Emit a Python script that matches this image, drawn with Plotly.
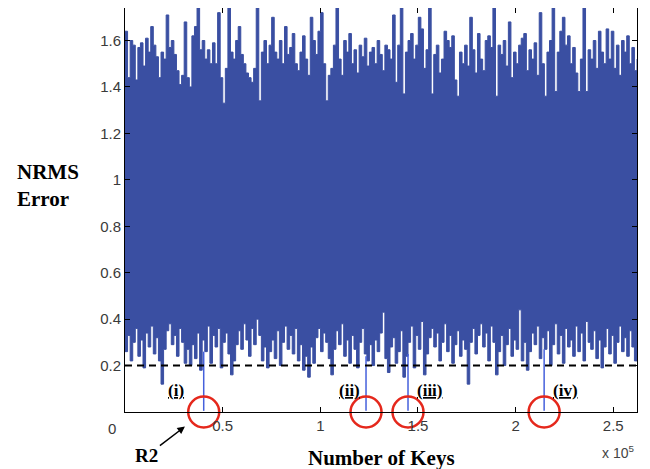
import numpy as np
import plotly.graph_objects as go

# ---------------- data ----------------
n_keys = 262144  # x extent of the trace (2^18 keys)

upper_env = [
    1.64, 1.44, 1.60, 1.58, 1.43, 1.57, 1.59, 1.49, 1.61, 1.55, 1.66, 1.58, 1.53, 1.44, 1.55, 1.52,
    1.71, 1.57, 1.60, 1.54, 1.47, 1.41, 1.45, 1.68, 1.44, 1.40, 1.62, 1.66, 1.74, 1.56, 1.60, 1.52,
    1.56, 1.50, 1.59, 1.50, 1.72, 1.44, 1.33, 1.48, 1.74, 1.55, 1.52, 1.60, 1.66, 1.54, 1.50, 1.46,
    1.44, 1.42, 1.48, 1.74, 1.34, 1.55, 1.60, 1.50, 1.58, 1.70, 1.55, 1.52, 1.60, 1.50, 1.66, 1.54,
    1.57, 1.63, 1.50, 1.47, 1.55, 1.62, 1.52, 1.45, 1.70, 1.60, 1.54, 1.64, 1.72, 1.50, 1.34, 1.45,
    1.48, 1.58, 1.74, 1.52, 1.45, 1.60, 1.55, 1.63, 1.50, 1.56, 1.46, 1.58, 1.53, 1.61, 1.49, 1.55,
    1.57, 1.50, 1.60, 1.54, 1.47, 1.58, 1.56, 1.52, 1.71, 1.42, 1.58, 1.74, 1.37, 1.55, 1.60, 1.63,
    1.52, 1.58, 1.70, 1.65, 1.48, 1.56, 1.74, 1.37, 1.54, 1.58, 1.46, 1.52, 1.64, 1.60, 1.57, 1.62,
    1.43, 1.36, 1.55, 1.50, 1.58, 1.49, 1.70, 1.56, 1.46, 1.63, 1.52, 1.47, 1.60, 1.62, 1.57, 1.74,
    1.36, 1.58, 1.54, 1.60, 1.49, 1.68, 1.44, 1.55, 1.50, 1.58, 1.61, 1.63, 1.47, 1.56, 1.52, 1.59,
    1.45, 1.72, 1.50, 1.36, 1.55, 1.60, 1.74, 1.38, 1.55, 1.64, 1.70, 1.58, 1.62, 1.50, 1.57, 1.46,
    1.38, 1.52, 1.74, 1.38, 1.56, 1.52, 1.60, 1.48, 1.64, 1.55, 1.50, 1.65, 1.52, 1.64, 1.48, 1.58,
    1.45, 1.60, 1.55, 1.62, 1.50, 1.57, 1.47, 1.52,
]

lower_env = [
    0.26, 0.33, 0.22, 0.30, 0.36, 0.24, 0.31, 0.19, 0.34, 0.28, 0.37, 0.25, 0.32, 0.22, 0.12, 0.27,
    0.35, 0.38, 0.29, 0.33, 0.24, 0.36, 0.30, 0.21, 0.27, 0.20, 0.29, 0.23, 0.34, 0.18, 0.31, 0.26,
    0.37, 0.21, 0.33, 0.28, 0.36, 0.19, 0.30, 0.34, 0.25, 0.16, 0.22, 0.29, 0.35, 0.27, 0.38, 0.31,
    0.24, 0.36, 0.29, 0.40, 0.33, 0.22, 0.28, 0.19, 0.26, 0.31, 0.23, 0.35, 0.20, 0.30, 0.37, 0.27,
    0.33, 0.25, 0.36, 0.22, 0.29, 0.18, 0.24, 0.15, 0.28, 0.21, 0.32, 0.36, 0.26, 0.34, 0.30, 0.23,
    0.16, 0.27, 0.35, 0.29, 0.38, 0.24, 0.31, 0.21, 0.33, 0.27, 0.19, 0.30, 0.36, 0.25, 0.22, 0.29,
    0.20, 0.31, 0.26, 0.34, 0.43, 0.23, 0.17, 0.28, 0.32, 0.21, 0.26, 0.35, 0.15, 0.24, 0.30, 0.37,
    0.19, 0.33, 0.27, 0.39, 0.16, 0.25, 0.32, 0.36, 0.28, 0.34, 0.22, 0.30, 0.38, 0.26, 0.33, 0.21,
    0.29, 0.35, 0.24, 0.31, 0.27, 0.12, 0.30, 0.36, 0.25, 0.33, 0.38, 0.28, 0.34, 0.22, 0.37, 0.30,
    0.16, 0.26, 0.33, 0.20, 0.29, 0.36, 0.24, 0.31, 0.27, 0.44, 0.22, 0.30, 0.18, 0.26, 0.34, 0.29,
    0.37, 0.23, 0.32, 0.27, 0.35, 0.20, 0.29, 0.38, 0.25, 0.33, 0.21, 0.36, 0.28, 0.31, 0.24, 0.37,
    0.26, 0.34, 0.22, 0.39, 0.30, 0.27, 0.35, 0.23, 0.31, 0.19, 0.28, 0.36, 0.25, 0.33, 0.21, 0.30,
    0.37, 0.26, 0.32, 0.24, 0.35, 0.28, 0.22, 0.30,
]

# deep minima marked by red circles
spike_x = [40300, 123400, 144900, 214600]
spike_top = [0.26, 0.24, 0.25, 0.27]
spike_min = [0.005, 0.005, 0.005, 0.005]
spike_labels = ["(i)", "(ii)", "(iii)", "(iv)"]
label_x = [26000, 114800, 156100, 225500]
label_y = 0.093

threshold = 0.2

y_tickvals = [0.2, 0.4, 0.6, 0.8, 1.0, 1.2, 1.4, 1.6]
y_ticktext = ["0.2", "0.4", "0.6", "0.8", "1", "1.2", "1.4", "1.6"]
x_tickvals = [50000, 100000, 150000, 200000, 250000]
x_ticktext = ["0.5", "1", "1.5", "2", "2.5"]

# ---------------- figure ----------------
BLUE = "#3a4fa2"
x_env = np.linspace(0, n_keys, len(upper_env))

fig = go.Figure()
fig.add_trace(go.Scatter(x=x_env, y=lower_env, mode="lines", line_shape="hv",
                         line=dict(color=BLUE, width=1), hoverinfo="skip",
                         showlegend=False))
fig.add_trace(go.Scatter(x=x_env, y=upper_env, mode="lines", fill="tonexty",
                         line_shape="hv",
                         fillcolor=BLUE, line=dict(color=BLUE, width=1),
                         hoverinfo="skip", showlegend=False))

# deep spikes
sx, sy = [], []
for x, t, m in zip(spike_x, spike_top, spike_min):
    sx += [x, x, None]
    sy += [t, m, None]
fig.add_trace(go.Scatter(x=sx, y=sy, mode="lines",
                         line=dict(color="#4560dc", width=1.5),
                         hoverinfo="skip", showlegend=False))

# threshold
fig.add_shape(type="line", xref="paper", x0=0, x1=1, yref="y",
              y0=threshold, y1=threshold,
              line=dict(color="black", width=2, dash="7px,5px"))

# red circles
fig.add_trace(go.Scatter(x=spike_x, y=[0] * len(spike_x), mode="markers",
                         marker=dict(symbol="circle-open", size=31,
                                     line=dict(color="#e5281c", width=2.5),
                                     color="#e5281c"),
                         cliponaxis=False, hoverinfo="skip", showlegend=False))

SERIF = "Liberation Serif"
SANS = "Liberation Sans"

for lx, lab in zip(label_x, spike_labels):
    fig.add_annotation(x=lx, y=label_y, xref="x", yref="y",
                       text=f"<b><u>{lab}</u></b>", showarrow=False,
                       font=dict(family=SERIF, size=17, color="black"))

# axis labels and extras (paper coordinates)
fig.add_annotation(xref="paper", yref="paper", x=-0.215, y=0.56,
                   xanchor="left", yanchor="middle", align="left",
                   text="<b>NRMS<br>Error</b>", showarrow=False,
                   font=dict(family=SERIF, size=21, color="black"))
fig.add_annotation(xref="paper", yref="paper", x=0.501, y=-0.115,
                   xanchor="center", yanchor="middle",
                   text="<b>Number of Keys</b>", showarrow=False,
                   font=dict(family=SERIF, size=21, color="black"))
fig.add_annotation(xref="paper", yref="paper", x=0.117, y=-0.036,
                   ax=-38, ay=29, text="<b>R2</b>", showarrow=True,
                   arrowhead=2, arrowsize=1, arrowwidth=1.5, arrowcolor="black",
                   font=dict(family=SERIF, size=19, color="black"))
fig.add_annotation(xref="paper", yref="paper", x=0.963, y=-0.098,
                   xanchor="center", yanchor="middle",
                   text="x 10<sup>5</sup>", showarrow=False,
                   font=dict(family=SANS, size=14, color="#444444"))
fig.add_annotation(xref="paper", yref="paper", x=-0.025, y=-0.041,
                   xanchor="center", yanchor="middle",
                   text="0", showarrow=False,
                   font=dict(family=SANS, size=15, color="#3a3a3a"))

# the page body adds an 8px margin, so the figure is sized to fit the window
fig.update_layout(
    width=642, height=461,
    margin=dict(l=117, r=13, t=0, b=57),
    paper_bgcolor="white", plot_bgcolor="white",
    xaxis=dict(range=[0, n_keys], tickvals=x_tickvals, ticktext=x_ticktext,
               ticks="inside", ticklen=5, tickcolor="black",
               showline=True, linecolor="black", linewidth=1, mirror="ticks",
               showgrid=False, zeroline=False,
               tickfont=dict(family=SANS, size=15, color="#3a3a3a")),
    yaxis=dict(range=[0, 1.74], tickvals=y_tickvals, ticktext=y_ticktext,
               ticks="inside", ticklen=5, tickcolor="black",
               showline=True, linecolor="black", linewidth=1, mirror="ticks",
               showgrid=False, zeroline=False,
               tickfont=dict(family=SANS, size=15, color="#3a3a3a")),
)

fig.write_html("out.html")
